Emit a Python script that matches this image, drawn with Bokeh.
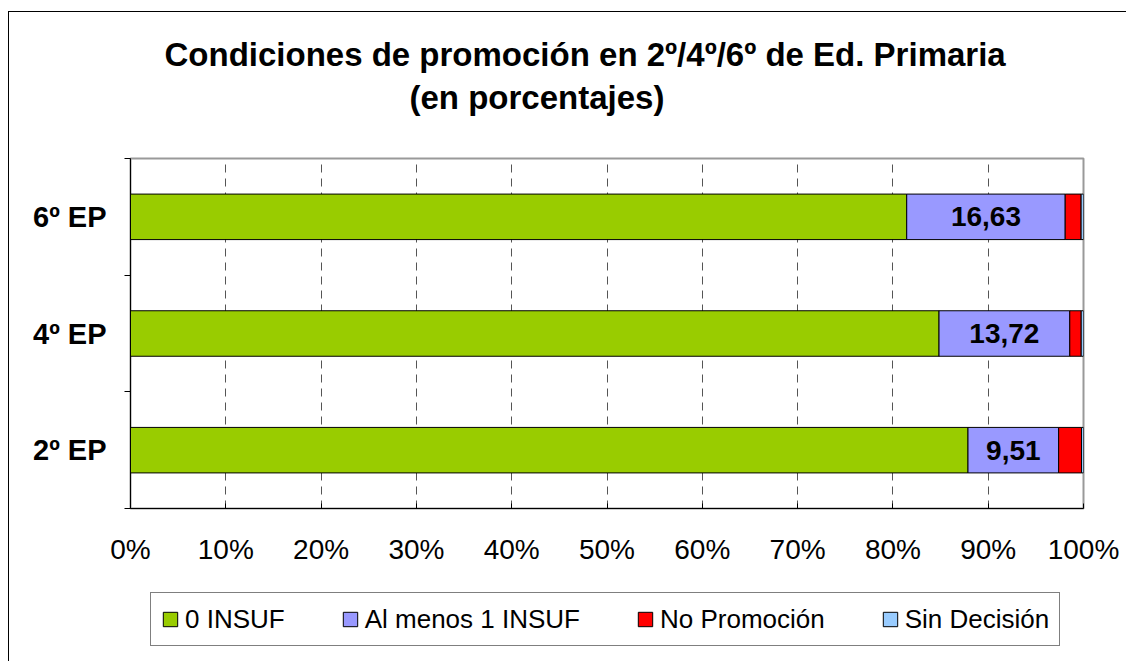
from bokeh.plotting import figure
from bokeh.layouts import column
from bokeh.models import ColumnDataSource, FixedTicker, LabelSet, Legend, Title, Range1d
from bokeh.core.properties import value
from bokeh.embed import file_html
from bokeh.resources import INLINE

categories = ["2º EP", "4º EP", "6º EP"]
cero_insuf = [87.88, 84.84, 81.45]
al_menos_1 = [9.51, 13.72, 16.63]
no_promocion = [2.40, 1.20, 1.67]
sin_decision = [0.21, 0.24, 0.25]
series_names = ["0 INSUF", "Al menos 1 INSUF", "No Promoción", "Sin Decisión"]
colors = ["#99CC00", "#9999FF", "#FF0000", "#99CCFF"]
x_ticks = [0, 10, 20, 30, 40, 50, 60, 70, 80, 90, 100]

FONT = "Liberation Sans"
stackers = ["s0", "s1", "s2", "s3"]

ypos = [i + 0.5 for i in range(len(categories))]
source = ColumnDataSource(dict(
    y=ypos,
    s0=cero_insuf, s1=al_menos_1, s2=no_promocion, s3=sin_decision,
    lx=[a + b / 2 for a, b in zip(cero_insuf, al_menos_1)],
    lt=[("%.2f" % v).replace(".", ",") for v in al_menos_1],
))

# ---------------- main chart ----------------
p = figure(width=1117, height=566, output_backend="svg", toolbar_location=None,
           x_range=Range1d(0, 100), y_range=Range1d(0, 3),
           min_border_left=121, min_border_right=43, min_border_top=146, min_border_bottom=70)

p.hbar_stack(stackers, y="y", height=0.39, source=source,
             color=colors, line_color="black", line_width=1)

labels = LabelSet(x="lx", y="y", text="lt", source=source, text_align="center",
                  text_baseline="middle", text_font=value(FONT), text_font_size="28px",
                  text_font_style="bold", text_color="black")
p.add_layout(labels)

p.outline_line_color = "#999999"
p.outline_line_width = 2
p.ygrid.grid_line_color = None
p.xgrid.ticker = FixedTicker(ticks=x_ticks)
p.xgrid.grid_line_color = "#555555"
p.xgrid.grid_line_dash = "8 6"
p.xgrid.grid_line_width = 1

xa = p.xaxis[0]
xa.ticker = FixedTicker(ticks=x_ticks)
xa.major_label_overrides = {t: f"{t}%" for t in x_ticks}
xa.major_tick_in = 5
xa.major_tick_out = 0
xa.minor_tick_line_color = None
xa.axis_line_color = "black"
xa.major_tick_line_color = "black"
xa.major_label_standoff = 25
xa.major_label_text_font = FONT
xa.major_label_text_font_size = "28px"
xa.major_label_text_color = "black"

ya = p.yaxis[0]
ya.ticker = FixedTicker(ticks=ypos, minor_ticks=[0, 1, 2, 3])
ya.major_label_overrides = {y: c for y, c in zip(ypos, categories)}
ya.major_tick_in = 0
ya.major_tick_out = 0
ya.minor_tick_in = 0
ya.minor_tick_out = 6
ya.minor_tick_line_color = "black"
ya.axis_line_color = "black"
ya.major_label_standoff = 18
ya.major_label_text_font = FONT
ya.major_label_text_font_size = "29px"
ya.major_label_text_font_style = "bold"
ya.major_label_text_color = "black"

t2 = Title(text="(en porcentajes)", align="left", offset=279, text_font=FONT,
           text_font_size="33px", text_font_style="bold", text_color="black", standoff=86)
t1 = Title(text="Condiciones de promoción en 2º/4º/6º de Ed. Primaria", align="left", offset=34,
           text_font=FONT, text_font_size="33px", text_font_style="bold", text_color="black", standoff=-78)
p.add_layout(t2, "above")
p.add_layout(t1, "above")

# ---------------- legend strip (ranges keep its bars out of view) ----------------
p2 = figure(width=1117, height=83, output_backend="svg", toolbar_location=None,
            x_range=Range1d(200, 300), y_range=Range1d(100, 103),
            x_axis_type=None, y_axis_type=None, min_border=0)
p2.outline_line_color = None
p2.center = []
leg_renderers = p2.hbar_stack(stackers, y="y", height=0.39, source=source,
                              color=colors, line_color="black", line_width=1)

legend = Legend(items=[(n, [r]) for n, r in zip(series_names, leg_renderers)],
                orientation="horizontal", location=(20, 15))
legend.label_text_font = FONT
legend.label_text_font_size = "26px"
legend.label_text_color = "black"
legend.glyph_width = 18
legend.glyph_height = 18
legend.label_standoff = 6
legend.spacing = 56
legend.padding = 10
legend.label_height = 32
legend.border_line_color = "black"
legend.border_line_width = 1
legend.margin = 0
p2.add_layout(legend)

layout = column(p, p2, spacing=0)
layout.margin = (11, 0, 0, 8)
layout.styles = {"border-top": "1px solid black", "border-left": "1px solid black"}

open("out.html", "w").write(file_html(layout, INLINE))
